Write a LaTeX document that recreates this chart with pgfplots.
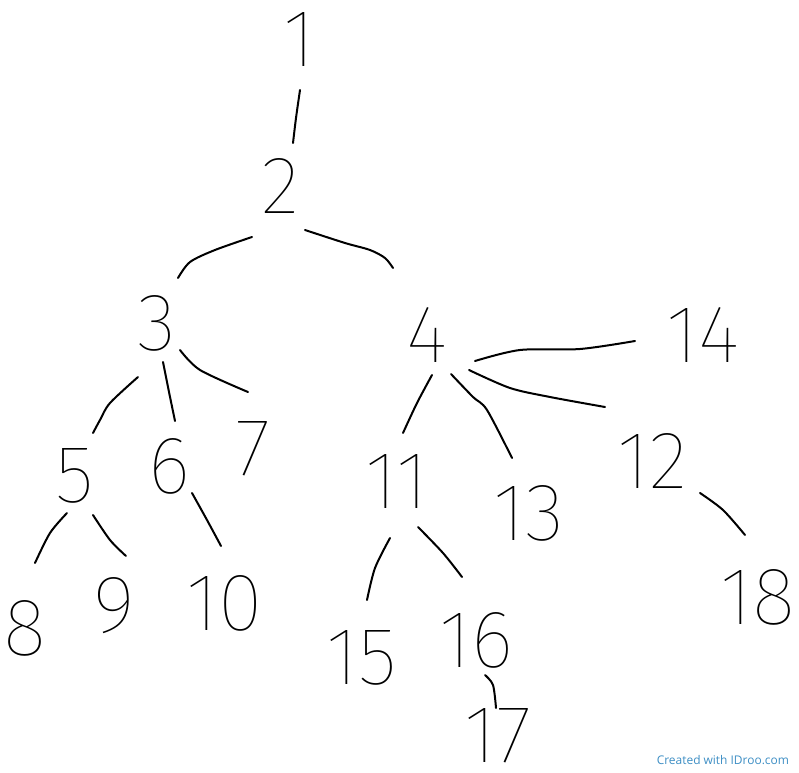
\documentclass[border=0pt]{standalone}
\usepackage{pgfplots}
\pgfplotsset{compat=1.18}
\usepackage{pgfplotstable}
\usepackage{fontspec}
\setmainfont{Open Sans}
\newfontfamily\hand{Fira Sans Thin}
\definecolor{idroo}{HTML}{3D8EC4}
\pgfplotstableread{
x y label
300 67 1
280 213 2
157 350 3
427 362 4
75 502 5
169 493 6
253 475 7
25 655 8
114 632 9
225 630 10
397 508 11
652 488 12
529 540 13
703 362 14
362 684 15
476 667 16
498 762 17
758 624 18
}\nodes
\begin{document}
\begin{tikzpicture}
\begin{axis}[
  width=799bp, height=773bp, scale only axis,
  xmin=0, xmax=799, ymin=0, ymax=773, y dir=reverse,
  axis lines=none, clip=false,
]
\pgfplotsset{every axis plot/.append style={black, line width=2bp, line cap=round, line join=round}}
% edges
\addplot[smooth] coordinates {(300,90) (296,118) (293,143)};
\addplot[smooth] coordinates {(252,237) (215,250) (190,262) (178,278)};
\addplot[smooth] coordinates {(305,230) (345,243) (370,250) (385,258) (393,268)};
\addplot[smooth] coordinates {(138,377) (110,403) (100,420) (93,433)};
\addplot[smooth] coordinates {(163,362) (169,392) (175,421)};
\addplot[smooth] coordinates {(180,350) (200,370) (248,392)};
\addplot[smooth] coordinates {(432,375) (417,403) (403,433)};
\addplot[smooth] coordinates {(451,374) (473,397) (487,410) (512,458)};
\addplot[smooth] coordinates {(469,370) (510,388) (550,397) (605,407)};
\addplot[smooth] coordinates {(475,361) (520,350) (580,349) (635,341)};
\addplot[smooth] coordinates {(67,513) (50,533) (35,563)};
\addplot[smooth] coordinates {(93,515) (110,540) (126,556)};
\addplot[smooth] coordinates {(192,493) (207,520) (221,546)};
\addplot[smooth] coordinates {(390,538) (375,568) (367,600)};
\addplot[smooth] coordinates {(418,527) (443,553) (462,577)};
\addplot[smooth] coordinates {(700,493) (723,510) (745,535)};
\addplot[smooth] coordinates {(485,675) (493,685) (496,708)};
% labels
\addplot[only marks, mark=text, text mark={},
  nodes near coords, point meta=explicit symbolic,
  nodes near coords style={anchor=base, inner sep=0pt, font=\hand\fontsize{82}{82}\selectfont, text=black}]
  table[x=x, y=y, meta=label] {\nodes};
% watermark
\addplot[only marks, mark=text, text mark={},
  nodes near coords, point meta=explicit symbolic,
  nodes near coords style={anchor=east, inner sep=0pt, font=\fontsize{12}{13}\selectfont, text=idroo}]
  table[x=x, y=y, meta=label] {
x y label
790 760 {Created with IDroo.com}
};
\end{axis}
\pgfresetboundingbox
\useasboundingbox (current axis.south west) rectangle (current axis.north east);
\end{tikzpicture}
\end{document}
